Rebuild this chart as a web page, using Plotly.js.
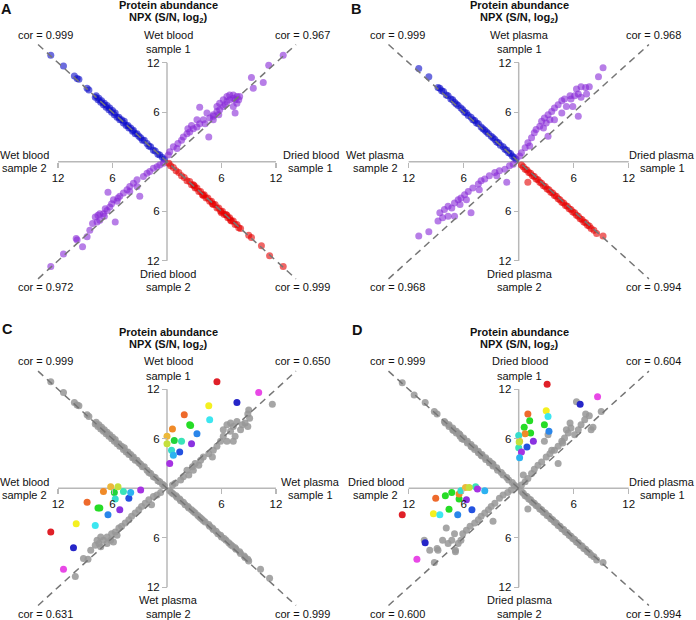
<!DOCTYPE html>
<html><head><meta charset="utf-8">
<script src="https://cdn.plot.ly/plotly-3.0.1.min.js"></script>
<style>html,body{margin:0;padding:0;background:#fff}</style>
</head><body><div id="chart" style="width:696px;height:620px"></div>
<script>
// ---------- DATA (NPX values, log2) ----------
// Panel A: wet blood (WB) vs dried blood (DB)
const A_UL_x = [12.8,11.4,10.2,9.9,9.7,8.8,8.6,7.9,7.8,7.6, 7.5,7.3,7.2,7.0,6.9,6.7,6.6,6.4,6.3,6.1, 6.0,5.8,5.7,5.5,5.3,5.2,5.0,4.8,4.7,4.5, 4.3,4.2,4.0,3.8,3.7,3.5,3.3,3.1,2.9,2.7, 2.5,2.2,2.0,1.8,1.5,1.3,1.0,0.8,0.5,0.3];
const A_UL_y = [12.9,11.6,10.4,10.1,10.0,8.9,8.7,7.8,8.0,7.5, 7.7,7.2,7.4,6.9,7.1,6.6,6.8,6.3,6.5,6.0, 6.2,5.7,5.9,5.4,5.4,5.1,5.1,4.7,4.9,4.4, 4.4,4.1,4.1,3.7,3.8,3.4,3.4,3.1,2.9,2.6, 2.6,2.2,1.9,1.8,1.4,1.3,0.9,0.8,0.5,0.3];
const A_UR_x = [12.8,11.2,9.3,10.6,9.5,8.0,7.3,6.9,6.6,7.5, 7.7,7.3,7.5,6.2,5.8,5.5,5.1,4.7,3.6,4.0, 3.6,3.3,2.9,2.5,2.2,4.6,1.8,1.6,1.2,0.7, 0.3,0.15,1.1,5.1,5.8,6.6,6.9,6.2,5.5,4.4, 3.3,2.7,2.3,5.1,5.7,4.2,7.3,7.7,7.9,6.4];
const A_UR_y = [12.9,11.7,10.2,9.6,8.9,7.9,7.7,7.5,7.3,7.5, 7.1,6.7,5.9,6.7,6.3,6.1,5.7,5.3,6.6,5.1, 4.6,4.2,4.0,3.6,3.4,3.0,3.0,2.6,2.2,1.8, 1.2,0.8,1.6,5.5,7.1,7.9,8.1,7.5,6.7,5.9, 5.1,4.4,4.0,5.1,5.7,4.6,8.1,7.9,7.5,6.9];
const A_LL_x = [12.8,11.4,10.0,9.3,8.8,8.5,7.9,7.6,7.4,7.7, 7.0,6.6,6.3,5.7,6.5,5.9,5.5,5.2,4.8,4.4, 4.1,3.7,3.3,3.0,2.6,2.2,1.5,1.1,0.8,7.4, 6.8,6.1,5.4,4.1,3.3,1.9,0.4,9.9,8.2,6.9];
const A_LL_y = [12.7,11.2,9.3,10.3,9.1,8.3,6.7,6.5,7.1,7.3, 6.3,5.9,5.5,7.3,3.7,4.6,4.8,4.2,3.8,3.4, 3.0,2.6,2.2,4.2,1.8,1.4,0.8,0.6,0.4,6.3, 5.7,5.1,4.4,3.6,3.0,1.2,0.2,9.5,7.5,6.6];
const A_LR_x = [12.8,11.3,10.4,9.3,9.0,8.1,7.9,7.7,7.5,7.3, 7.1,6.9,6.7,6.5,6.3,6.1,5.9,5.7,5.5,5.3, 5.1,4.9,4.7,4.5,4.3,4.1,3.9,3.7,3.5,3.3, 3.1,2.9,2.7,2.5,2.2,1.9,1.6,1.3,1.0,0.7, 0.4,0.2,6.0,6.6,7.0,5.0,4.0,3.0];
const A_LR_y = [12.7,11.4,10.2,9.2,8.9,8.1,8.0,7.6,7.6,7.2, 7.2,6.8,6.8,6.4,6.4,6.0,6.0,5.6,5.6,5.2, 5.2,4.8,4.8,4.4,4.4,4.0,4.0,3.6,3.6,3.2, 3.2,2.8,2.8,2.4,2.3,1.9,1.7,1.3,1.1,0.7, 0.5,0.2,6.2,6.5,7.1,5.1,4.1,2.9];

// Panel B: wet plasma (WP) vs dried plasma (DP)
const B_UL_x = [10.9,9.8,8.8,8.6,8.4,8.2,7.9,7.7,7.4,7.2, 7.0,6.8,6.6,6.3,6.1,5.9,5.7,5.5,5.2,5.0, 4.8,4.6,4.4,4.1,3.9,3.7,3.5,3.3,3.0,2.8, 2.6,2.4,2.2,2.0,1.7,1.5,1.3,1.1,0.9,0.7, 0.5,0.3];
const B_UL_y = [11.3,10.3,9.0,8.9,8.6,8.5,8.1,8.0,7.6,7.5, 7.2,7.0,6.8,6.5,6.3,6.0,5.9,5.6,5.4,5.1, 5.0,4.7,4.6,4.2,4.0,3.8,3.6,3.4,3.1,2.9, 2.7,2.4,2.3,2.0,1.8,1.5,1.4,1.1,1.0,0.7, 0.5,0.3];
const B_UR_x = [9.2,8.7,7.7,7.3,6.8,6.3,6.5,6.8,7.4,5.6, 5.0,4.7,5.2,4.3,3.9,3.6,3.2,2.8,2.5,2.3, 1.9,1.7,1.4,1.0,0.7,0.3,6.5,3.2,4.7,3.9, 2.7,5.7,5.9,0.1,1.2,3.0,3.4,6.1];
const B_UR_y = [11.4,10.3,9.1,9.0,9.1,8.8,8.2,7.8,8.2,8.0, 7.6,7.4,6.7,6.9,6.5,6.1,5.7,5.3,4.9,4.3, 3.9,3.5,2.9,2.3,1.7,1.1,5.5,3.1,5.9,5.1, 4.1,7.6,6.7,0.7,1.9,4.7,5.1,8.0];
const B_LL_x = [10.9,9.8,8.8,8.6,8.1,7.7,7.3,7.0,7.0,6.6, 6.3,5.9,5.5,5.2,5.0,4.4,4.1,3.7,3.2,2.6, 2.1,1.5,1.0,1.3,7.7,8.3,6.4,5.7,0.6,2.4, 4.3];
const B_LL_y = [9.0,8.5,7.2,6.2,5.8,6.6,5.6,6.6,5.0,4.6, 4.4,4.0,3.6,6.2,3.2,2.7,2.3,2.1,1.7,1.3, 1.1,0.9,0.5,2.5,5.4,6.8,5.2,4.6,0.3,1.7, 3.4];
const B_LR_x = [9.2,8.5,8.2,7.9,7.7,7.5,7.3,7.1,6.9,6.7, 6.5,6.3,6.1,5.9,5.7,5.5,5.3,5.1,4.9,4.7, 4.5,4.3,4.1,3.9,3.7,3.5,3.3,3.1,2.9,2.7, 2.5,2.3,2.1,1.9,1.7,1.5,1.3,1.1,0.9,0.7, 0.5,0.3,1.0];
const B_LR_y = [9.0,8.7,8.3,8.1,7.8,7.7,7.4,7.3,7.0,6.9, 6.6,6.5,6.2,6.1,5.8,5.7,5.4,5.3,5.0,4.9, 4.6,4.5,4.2,4.1,3.8,3.7,3.4,3.3,3.0,2.9, 2.6,2.5,2.2,2.1,1.8,1.7,1.4,1.3,1.0,0.9, 0.6,0.4,2.5];

// Panel C: wet blood vs wet plasma (grey proteins)
const C_UR_x = [11.6,9.0,8.9,9.1,8.6,8.9,7.3,6.6,6.2,7.0, 7.5,6.2,6.6,5.9,5.5,5.1,4.6,4.0,3.7,3.1, 2.8,2.2,2.4,1.8,1.5,0.9,0.6,8.1,8.3,7.3, 5.0,2.9,3.5,7.0,7.7];
const C_UR_y = [10.2,9.5,9.0,8.5,7.9,7.5,7.5,7.7,7.1,6.9, 6.3,6.3,5.7,5.7,5.1,4.6,4.2,3.8,3.4,3.0, 2.6,2.2,1.6,1.4,1.0,0.6,0.4,7.1,7.7,5.7, 3.8,2.2,2.8,7.9,8.1];
const C_LL_x = [10.1,9.2,8.7,7.9,7.5,7.7,7.3,7.0,6.6,6.2, 6.1,5.7,5.3,5.0,4.6,4.2,3.9,3.5,3.1,2.8, 2.4,2.0,1.5,1.1,0.7,1.7,7.3,5.9,6.6,8.4, 5.5];
const C_LL_y = [10.7,8.5,8.6,6.9,6.7,6.3,5.9,6.3,5.9,6.3, 5.5,5.3,4.8,4.6,4.2,3.8,3.4,3.0,2.6,2.2, 1.8,1.4,1.0,0.8,0.5,2.0,7.1,6.5,6.7,7.5, 5.7];
// Panel C: highlighted proteins
const C_COL_WP1 = [5.5,10.1,7.7,4.6,1.9,4.7,2.5,0.6,3.3,0.0,0.8,1.6,0.0,2.7,0.5,1.4,0.7,0.3,2.6];
const C_COL_WB1 = [12.9,11.6,10.4,10.0,8.9,8.3,7.7,7.2,6.6,6.3,5.8,5.7,5.4,5.4,4.6,4.4,4.0,3.0,7.6];
const C_COL_WB2 = [12.8,11.4,10.3,10.0,8.8,7.9,7.6,7.0,6.5,6.2,5.8,4.8,5.4,5.2,5.7,4.2,4.0,2.9,7.4];
const C_COL_WP2 = [5.3,9.8,7.2,4.3,1.7,4.5,2.4,0.4,3.2,-0.2,0.5,0.4,-0.2,2.6,1.3,1.2,0.5,0.2,2.4];
const C_COLORS = ['#e02028','#e848e6','#2626c8','#f4f020','#ee6a2c','#3ce6f0','#26dc26','#f08a28','#2a86ea','#ecb83a','#22d43a','#3ae4b8','#c4e03c','#8a32e0','#36dccc','#2452e0','#2cb2f0','#a632e2','#26dc26'];

// Panel D: dried blood vs dried plasma (grey proteins)
const D_UR_x = [6.3,9.0,7.7,7.2,8.1,6.8,6.5,5.7,6.1,5.4, 5.0,4.7,4.3,3.9,3.4,2.8,3.0,4.3,2.5,2.1, 1.7,1.4,0.5,1.0,0.7,0.3,3.2,5.2,5.6,4.8, 3.6,7.3,7.9];
const D_UR_y = [10.5,9.3,8.8,8.3,7.4,7.7,7.1,7.3,6.5,6.7, 6.1,5.7,5.1,4.6,4.2,5.7,3.8,3.0,3.2,2.8, 2.3,1.8,1.6,1.2,0.8,0.4,6.5,7.1,7.9,5.5, 4.6,9.0,7.1];
const D_LL_x = [10.3,9.2,7.9,7.7,7.0,6.9,6.6,6.3,6.1,5.7, 5.3,4.8,4.4,4.1,3.7,3.3,3.0,2.6,2.1,1.7, 1.2,0.8,8.3,7.3,8.8,9.7,8.9,6.9,2.8];
const D_LL_y = [6.3,9.0,4.8,6.7,5.5,7.5,6.7,6.3,5.5,5.1, 4.6,4.2,3.8,3.4,3.0,2.6,2.2,1.8,1.2,0.8, 0.5,0.2,6.3,6.3,7.5,7.5,7.3,7.7,4.0];
// Panel D: highlighted proteins
const D_COL_DP1 = [3.1,8.6,6.7,3.0,1.0,3.2,1.2,2.8,0.6,1.3,0.7,3.3,0.0,0.1,1.6,0.9,0.0,0.3,0.1,0.05];
const D_COL_DB1 = [12.6,11.1,10.2,9.4,9.0,8.7,8.2,7.7,7.4,6.7,6.6,6.9,6.4,5.7,5.7,5.0,4.9,4.4,3.7,5.6];
const D_COL_DB2 = [12.7,11.1,10.2,9.3,9.05,8.6,8.0,7.6,7.3,6.5,6.5,6.65,6.3,5.8,5.7,5.1,4.7,4.5,3.7,5.4];
const D_COL_DP2 = [3.2,8.6,6.6,3.1,1.2,3.2,0.9,2.55,0.5,1.3,0.7,3.2,0.3,-0.1,1.4,2.6,-0.2,0.1,0.3,-0.1];
const D_COLORS = ['#e02028','#e848e6','#2626c8','#f4f020','#ee6a2c','#3ce6f0','#26dc26','#26dc26','#26dc26','#26dc26','#f08a28','#2a86ea','#36dccc','#ecb83a','#8a32e0','#2452e0','#3ae4b8','#a632e2','#2cb2f0','#c4e03c'];

// Labels
const TICK_VALS = [-12,-6,6,12];
const TICK_TEXT = ['12','6','6','12'];
const COR_A = ['0.999','0.967','0.972','0.999'];
const COR_B = ['0.999','0.968','0.968','0.994'];
const COR_C = ['0.999','0.650','0.631','0.999'];
const COR_D = ['0.999','0.604','0.600','0.994'];

// ---------- LAYOUT ----------
const W = 696, H = 620, R = 15, DL = 14.2;
const FONT = 'Arial, "Liberation Sans", sans-serif';
const BLUE = 'rgb(10,10,200)', PURPLE = 'rgb(135,40,215)', RED = 'rgb(228,0,0)', GREY = 'rgb(150,150,150)';
const neg = a => a.map(v => -v);

const panels = [
  {k:'', letter:'A', lx:6, ly:0, cx:167, cy:161.7, sx:9.08, sy:8.25,
   top:['Wet blood','sample 1'], left:['Wet blood','sample 2'], right:['Dried blood','sample 1'], bottom:['Dried blood','sample 2'], cor:COR_A,
   traces:[[neg(A_UL_x),A_UL_y,BLUE,0.6],[A_UR_x,A_UR_y,PURPLE,0.6],[neg(A_LL_x),neg(A_LL_y),PURPLE,0.6],[A_LR_x,neg(A_LR_y),RED,0.6]]},
  {k:'2', letter:'B', lx:356, ly:0, cx:518.7, cy:161.7, sx:9.17, sy:8.25,
   top:['Wet plasma','sample 1'], left:['Wet plasma','sample 2'], right:['Dried plasma','sample 1'], bottom:['Dried plasma','sample 2'], cor:COR_B,
   traces:[[neg(B_UL_x),B_UL_y,BLUE,0.6],[B_UR_x,B_UR_y,PURPLE,0.6],[neg(B_LL_x),neg(B_LL_y),PURPLE,0.6],[B_LR_x,neg(B_LR_y),RED,0.6]]},
  {k:'3', letter:'C', lx:7, ly:320, cx:167, cy:488.3, sx:9.08, sy:8.25,
   top:['Wet blood','sample 1'], left:['Wet blood','sample 2'], right:['Wet plasma','sample 1'], bottom:['Wet plasma','sample 2'], cor:COR_C,
   traces:[[neg(A_UL_x),A_UL_y,GREY,0.85],[C_UR_x,C_UR_y,GREY,0.85],[neg(C_LL_x),neg(C_LL_y),GREY,0.85],[B_UL_y,neg(B_UL_x),GREY,0.85],
           [C_COL_WP1,C_COL_WB1,C_COLORS,1],[neg(C_COL_WB2),neg(C_COL_WP2),C_COLORS,1]]},
  {k:'4', letter:'D', lx:357, ly:321, cx:518.7, cy:488.3, sx:9.17, sy:8.25,
   top:['Dried blood','sample 1'], left:['Dried blood','sample 2'], right:['Dried plasma','sample 1'], bottom:['Dried plasma','sample 2'], cor:COR_D,
   traces:[[neg(A_LR_y),A_LR_x,GREY,0.85],[D_UR_x,D_UR_y,GREY,0.85],[neg(D_LL_x),neg(D_LL_y),GREY,0.85],[B_LR_x,neg(B_LR_y),GREY,0.85],
           [D_COL_DP1,D_COL_DB1,D_COLORS,1],[neg(D_COL_DB2),neg(D_COL_DP2),D_COLORS,1]]}
];

const data = [], shapes = [], annotations = [];
const layout = {width:W, height:H, margin:{l:0,r:0,t:0,b:0}, showlegend:false,
  paper_bgcolor:'#fff', plot_bgcolor:'rgba(0,0,0,0)', font:{family:FONT, color:'#111'}};

function txt(x, y, text, size, bold, yanchor){
  annotations.push({xref:'paper', yref:'paper', x:x/W, y:1-y/H, xanchor:'center', yanchor:yanchor||'middle',
    text: bold ? '<b>'+text+'</b>' : text, showarrow:false, borderpad:0, font:{family:FONT, size:size, color:'#111'}});
}

panels.forEach(p => {
  const xa = 'xaxis'+p.k, ya = 'yaxis'+p.k, xr = 'x'+p.k, yr = 'y'+p.k;
  const common = {range:[-R,R], tickvals:TICK_VALS, ticktext:TICK_TEXT, ticks:'outside', ticklen:5, tickwidth:1.3,
    tickcolor:'#b8b8b8', showgrid:false, zeroline:false, showline:false, fixedrange:true,
    tickfont:{family:FONT, size:11.5, color:'#111'}, anchor:'free'};
  layout[xa] = Object.assign({}, common, {domain:[(p.cx-R*p.sx)/W, (p.cx+R*p.sx)/W], position:1-p.cy/H, side:'bottom'});
  layout[ya] = Object.assign({}, common, {domain:[1-(p.cy+R*p.sy)/H, 1-(p.cy-R*p.sy)/H], position:p.cx/W, side:'left'});

  // axis cross lines
  shapes.push({type:'line', xref:xr, yref:yr, x0:-12, x1:12, y0:0, y1:0, line:{color:'#b8b8b8', width:1.5}, layer:'below'});
  shapes.push({type:'line', xref:xr, yref:yr, x0:0, x1:0, y0:-12, y1:12, line:{color:'#b8b8b8', width:1.5}, layer:'below'});
  // identity lines
  shapes.push({type:'line', xref:xr, yref:yr, x0:-DL, x1:DL, y0:-DL, y1:DL, line:{color:'#767676', width:1.5, dash:'7px,5px'}, layer:'above'});
  shapes.push({type:'line', xref:xr, yref:yr, x0:-DL, x1:DL, y0:DL, y1:-DL, line:{color:'#767676', width:1.5, dash:'7px,5px'}, layer:'above'});

  p.traces.forEach(t => {
    data.push({type:'scatter', mode:'markers', x:t[0], y:t[1], xaxis:xr, yaxis:yr, hoverinfo:'skip',
      marker:{color:t[2], size:7, opacity:t[3], line:{width:0}}});
  });

  // texts
  txt(p.lx, p.ly, p.letter, 14.5, true, 'top');
  txt(p.cx+1, p.cy-156.5, 'Protein abundance', 11, true);
  txt(p.cx+1, p.cy-143.5, 'NPX (S/N, log<sub>2</sub>)', 11, true);
  txt(p.cx+1, p.cy-127, p.top[0], 11); txt(p.cx+1, p.cy-112.6, p.top[1], 11);
  txt(p.cx+1, p.cy+112, p.bottom[0], 11); txt(p.cx+1, p.cy+125.5, p.bottom[1], 11);
  txt(p.cx-143, p.cy-6.5, p.left[0], 11); txt(p.cx-143, p.cy+6.8, p.left[1], 11);
  txt(p.cx+143.5, p.cy-6.5, p.right[0], 11); txt(p.cx+143.5, p.cy+6.8, p.right[1], 11);
  txt(p.cx-121.5, p.cy-127, 'cor = '+p.cor[0], 11);
  txt(p.cx+135, p.cy-127, 'cor = '+p.cor[1], 11);
  txt(p.cx-121.5, p.cy+125.5, 'cor = '+p.cor[2], 11);
  txt(p.cx+135, p.cy+125.5, 'cor = '+p.cor[3], 11);
});

layout.shapes = shapes;
layout.annotations = annotations;
Plotly.newPlot('chart', data, layout, {displayModeBar:false, staticPlot:true});
</script></body></html>
